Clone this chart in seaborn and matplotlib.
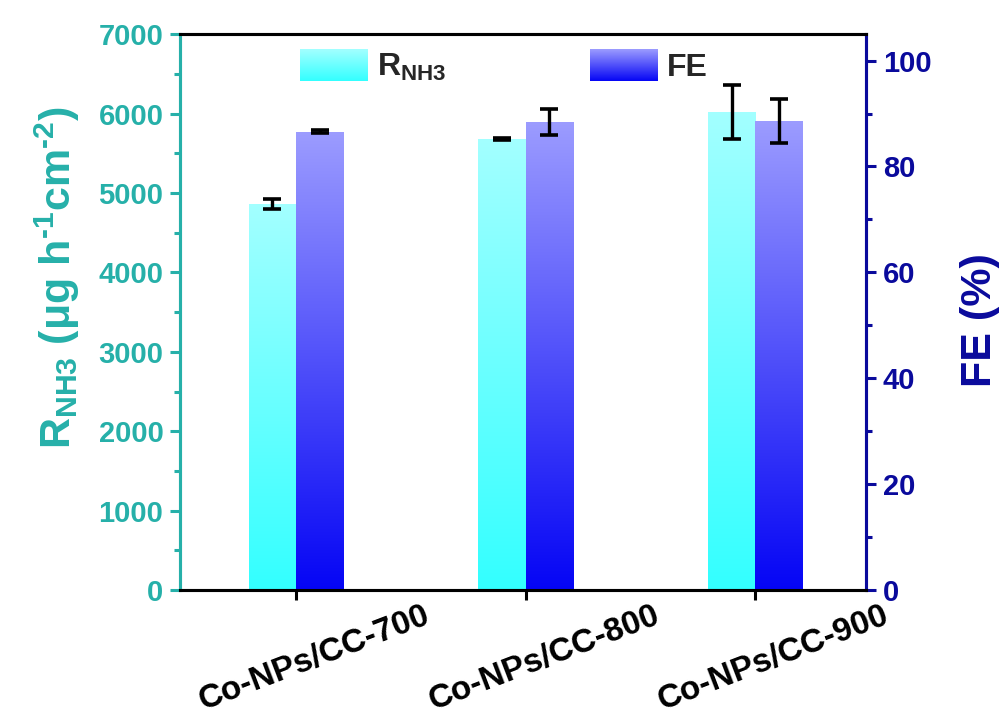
import numpy as np
import pandas as pd
import matplotlib
matplotlib.use("Agg")
import matplotlib.pyplot as plt
import seaborn as sns
from matplotlib.colors import to_rgb
from matplotlib.legend_handler import HandlerBase
from matplotlib.image import BboxImage
from matplotlib.transforms import Bbox, TransformedBbox, ScaledTranslation
from matplotlib.ticker import MultipleLocator

# ---- data ----
samples = ["Co-NPs/CC-700", "Co-NPs/CC-800", "Co-NPs/CC-900"]
rate = [4860, 5680, 6020]          # µg h-1 cm-2
rate_err = [60, 12, 345]
fe = [86.6, 88.4, 88.6]            # %
fe_err = [0.3, 2.4, 4.1]

TEAL = "#26B0A9"
NAVY = "#0A0A9C"
CYAN_TOP, CYAN_BOT = "#A3FFFF", "#33FFFF"
BLUE_TOP, BLUE_BOT = "#9C9CFF", "#0505F5"

sns.set_style("ticks")
plt.rcParams["font.family"] = ["Liberation Sans", "DejaVu Sans"]
plt.rcParams["font.weight"] = "bold"
plt.rcParams["mathtext.fontset"] = "custom"
plt.rcParams["mathtext.rm"] = "Liberation Sans:bold"
plt.rcParams["mathtext.bf"] = "Liberation Sans:bold"
plt.rcParams["mathtext.it"] = "Liberation Sans:bold"

series = ["R", "FE"]
df_r = pd.DataFrame({"sample": samples, "value": rate, "series": "R"})
df_f = pd.DataFrame({"sample": samples, "value": fe, "series": "FE"})


def gradient(top, bot, n=256):
    t = np.linspace(0, 1, n)[:, None]
    a, b = np.array(to_rgb(bot)), np.array(to_rgb(top))
    return (a + (b - a) * t)[:, None, :]


def gradient_fill(ax, patches, top, bot):
    g = gradient(top, bot)
    for p in patches:
        x, y = p.get_x(), p.get_y()
        w, h = p.get_width(), p.get_height()
        if not np.isfinite(h) or h == 0:
            continue
        im = ax.imshow(g, extent=[x, x + w, y, y + h], origin="lower",
                       aspect="auto", zorder=p.get_zorder(), interpolation="bilinear")
        im.set_clip_path(p)
        p.set_facecolor("none")
        p.set_edgecolor("none")


fig = plt.figure(figsize=(10.06, 7.25), dpi=100)
ax = fig.add_axes([0.179, 0.186, 0.682, 0.767])
ax2 = ax.twinx()

sns.barplot(data=df_r, x="sample", y="value", hue="series", hue_order=series,
            order=samples, width=0.41, gap=0, dodge=True, errorbar=None,
            legend=False, ax=ax)
sns.barplot(data=df_f, x="sample", y="value", hue="series", hue_order=series,
            order=samples, width=0.41, gap=0, dodge=True, errorbar=None,
            legend=False, ax=ax2)

r_bars = [p for p in ax.patches]
f_bars = [p for p in ax2.patches]

gradient_fill(ax, r_bars, CYAN_TOP, CYAN_BOT)
gradient_fill(ax2, f_bars, BLUE_TOP, BLUE_BOT)
ax.set_xlim(-0.505, 2.484)
ax.set_ylim(0, 7000)
ax2.set_ylim(0, 105)

# error bars at bar centres
rx = [p.get_x() + p.get_width() / 2 for p in r_bars]
fx = [p.get_x() + p.get_width() / 2 for p in f_bars]
ekw = dict(fmt="none", ecolor="black", elinewidth=2.4, capsize=6.5, capthick=2.6, zorder=5)
ax.errorbar(rx, rate, yerr=rate_err, **ekw)
ax2.errorbar(fx, fe, yerr=fe_err, **ekw)

# spines
for a in (ax, ax2):
    for s in a.spines.values():
        s.set_linewidth(2.2)
        s.set_color("black")
    a.spines["left"].set_color(TEAL)
    a.spines["right"].set_color(NAVY)

# left axis
ax.yaxis.set_major_locator(MultipleLocator(1000))
ax.yaxis.set_minor_locator(MultipleLocator(500))
ax.tick_params(axis="y", which="major", direction="out", length=7, width=2.2,
               colors=TEAL, labelsize=21, pad=5)
ax.tick_params(axis="y", which="minor", direction="out", length=4, width=2.2, colors=TEAL)
for t in ax.get_yticklabels():
    t.set_fontweight("bold")
ax.set_ylabel(r"$\mathbf{R_{NH3}}$ (μg h$^{\text{-1}}$cm$^{\text{-2}}$)",
              color=TEAL, fontsize=31, fontweight="bold")
ax.yaxis.set_label_coords(-0.143, 0.563)

# right axis
ax2.yaxis.set_major_locator(MultipleLocator(20))
ax2.yaxis.set_minor_locator(MultipleLocator(10))
ax2.tick_params(axis="y", which="major", direction="out", length=7, width=2.2,
                colors=NAVY, labelsize=21, pad=5)
ax2.tick_params(axis="y", which="minor", direction="out", length=4, width=2.2, colors=NAVY)
for t in ax2.get_yticklabels():
    t.set_fontweight("bold")
ax2.set_ylabel("FE (%)", color=NAVY, fontsize=31, fontweight="bold")
ax2.yaxis.set_label_coords(1.137, 0.486)

# x axis
ax.tick_params(axis="x", which="major", direction="out", length=7, width=2.2,
               colors="black", labelsize=24, pad=4)
ax.set_xticks(range(len(samples)))
ax.set_xticklabels(samples, rotation=21, ha="center", rotation_mode="anchor",
                   fontweight="bold", fontsize=24)
shift = ScaledTranslation(0.13, -0.38, fig.dpi_scale_trans)
for t in ax.get_xticklabels():
    t.set_transform(t.get_transform() + shift)
ax.set_xlabel("")
ax2.set_xlabel("")
ax2.tick_params(axis="x", which="both", length=0)


# legend with gradient swatches
class GradientHandler(HandlerBase):
    def __init__(self, top, bot):
        super().__init__()
        self.top, self.bot = top, bot

    def create_artists(self, legend, orig_handle, xdescent, ydescent,
                       width, height, fontsize, trans):
        bb = TransformedBbox(Bbox.from_bounds(-xdescent, -ydescent, width, height), trans)
        im = BboxImage(bb, origin="lower", interpolation="bilinear")
        im.set_data(gradient(self.top, self.bot))
        return [im]


h_r = plt.Rectangle((0, 0), 1, 1)
h_f = plt.Rectangle((0, 0), 1, 1)
leg = ax2.legend([h_r, h_f], [r"$\mathbf{R_{NH3}}$", "FE"],
                 handler_map={h_r: GradientHandler(CYAN_TOP, CYAN_BOT),
                              h_f: GradientHandler(BLUE_TOP, BLUE_BOT)},
                 ncol=2, frameon=False, loc="upper left",
                 bbox_to_anchor=(0.133, 1.025), prop={"size": 23, "weight": "bold"},
                 handlelength=2.1, handleheight=1.15, columnspacing=4.5,
                 handletextpad=0.3)

fig.savefig("out.png", dpi=100)
